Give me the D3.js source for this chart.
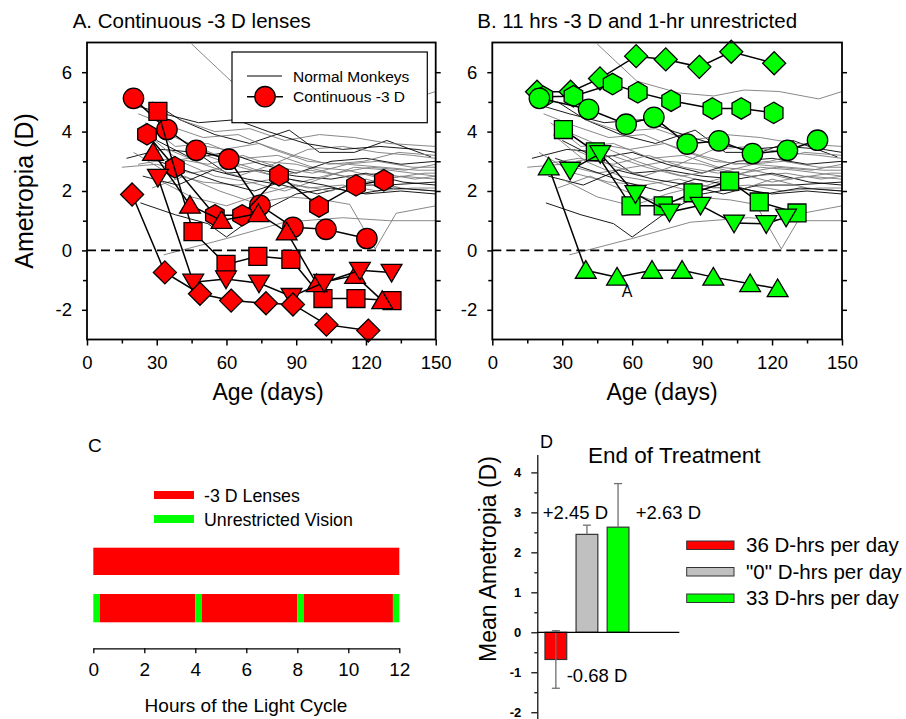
<!DOCTYPE html>
<html><head><meta charset="utf-8">
<script src="https://cdn.jsdelivr.net/npm/d3@7"></script>
<style>
body{margin:0;background:#fff}
text{font-family:"Liberation Sans",Arial,sans-serif;fill:#000}
</style>
</head><body>
<svg id="chart" width="906" height="719"></svg>
<script>
// ---------- DATA ----------
const ageTicks = [0, 30, 60, 90, 120, 150];
const ageMinorTicks = [15, 45, 75, 105, 135];
const ametTicks = [-2, 0, 2, 4, 6];
const ametMinorTicks = [-1, 1, 3, 5];

// normal monkeys (age, ametropia)
const normalMonkeys = [
  [[45,6.95],[62,5.7],[80,5.3],[95,5.2],[108,5.4],[123,5.35],[140,5.1],[150,5.35]],
  [[28,5.0],[40,4.4],[55,3.9],[70,3.6],[87,4.05],[100,3.3],[115,3.3],[129,3.7],[148,3.15]],
  [[22,4.6],[35,4.2],[50,3.8],[65,3.9],[80,3.4],[95,3.0],[110,2.9],[125,3.0],[140,2.8],[150,2.8]],
  [[25,4.3],[38,3.5],[52,3.6],[68,3.1],[82,3.2],[97,2.8],[112,2.7],[128,2.4],[145,2.6],[150,2.6]],
  [[17,3.1],[32,3.4],[47,3.3],[60,2.6],[75,2.7],[90,2.5],[105,2.4],[120,2.6],[136,2.3],[150,2.2]],
  [[15,2.8],[30,2.9],[45,2.6],[60,2.8],[75,3.0],[90,2.9],[105,2.6],[120,2.3],[135,2.5],[150,2.4]],
  [[20,3.3],[35,2.6],[50,2.3],[65,2.2],[80,2.4],[95,2.1],[110,2.2],[125,2.0],[140,2.1],[150,2.1]],
  [[23,1.6],[38,1.2],[52,0.9],[60,0.45],[75,1.3],[90,1.9],[105,2.1],[120,1.9],[135,2.0],[150,1.9]],
  [[33,-0.15],[60,0.4],[85,0.95],[110,1.1],[130,1.0],[150,1.0]],
  [[28,2.1],[42,2.5],[57,2.0],[72,1.6],[87,1.8],[102,1.7],[113,1.55],[124,0.05],[133,1.25],[150,1.5]],
  [[30,3.7],[45,3.1],[60,3.3],[75,2.9],[90,2.6],[105,3.0],[120,3.1],[135,2.9],[150,3.0]],
  [[26,3.9],[40,3.0],[55,2.5],[70,2.3],[85,2.0],[100,2.4],[115,2.8],[130,2.7],[150,2.5]],
  [[35,3.4],[50,2.9],[65,2.5],[80,2.9],[95,3.4],[110,3.5],[125,3.3],[140,3.2],[150,3.1]],
  [[24,2.5],[39,2.2],[54,2.7],[69,2.4],[84,2.2],[99,1.9],[114,2.2],[129,2.2],[150,2.3]],
  [[40,4.4],[55,4.0],[70,4.1],[85,3.7],[100,3.9],[115,3.8],[130,3.6],[150,3.5]],
  [[32,4.0],[47,3.5],[62,3.0],[77,2.6],[92,2.3],[107,2.6],[122,2.8],[137,2.7],[150,2.9]],
  [[20,4.9],[33,4.6],[48,4.3],[64,4.4],[78,4.0],[94,3.6],[110,3.4],[126,3.5],[142,3.4],[150,3.3]],
  [[30,2.4],[45,1.8],[60,1.5],[75,1.9],[90,2.2],[105,2.0],[120,2.4],[135,2.1],[150,2.0]],
  [[36,3.0],[51,3.2],[66,2.8],[81,2.5],[96,2.7],[111,2.5],[126,2.6],[141,2.4],[150,2.5]],
  [[27,3.1],[42,2.7],[57,2.3],[72,2.0],[87,2.4],[102,2.2],[117,1.9],[132,2.1],[150,2.0]],
  [[44,3.6],[59,3.4],[74,3.6],[89,3.2],[104,2.9],[119,3.0],[134,3.3],[150,3.2]],
  [[22,2.9],[37,3.1],[52,2.9],[67,3.2],[82,2.8],[97,2.6],[112,2.9],[127,2.8],[142,2.7],[150,2.7]]
];

// Panel A: continuous -3 D lenses
const redCircle  = [[20,5.12],[34.4,4.07],[47,3.37],[61,3.07],[74.4,1.52],[88.6,0.78],[102.8,0.71],[120.4,0.40]];
const redHexagon = [[25.8,3.91],[37.8,2.8],[55,1.18],[66.7,1.18],[82.6,2.53],[99.8,1.48],[115.7,2.19],[127.7,2.36]];
const redSquare  = [[30.5,4.68],[45.6,0.63],[59.8,-0.47],[73.5,-0.2],[87.7,-0.3],[101.5,-1.62],[115.7,-1.62],[131.2,-1.69]];
const redTriUp   = [[28.4,3.3],[44.3,1.52],[57.9,1.01],[73.7,1.24],[85.9,0.62],[98.8,-1.12],[115.3,-0.84],[127,-1.69]];
const redTriDown = [[30.5,2.46],[45.7,-1.07],[59.8,-0.96],[74,-1.1],[88,-1.55],[102,-1.08],[117.4,-0.67],[131,-0.74]];
const redDiamond = [[19.4,1.88],[33.5,-0.74],[48.6,-1.46],[62,-1.69],[77,-1.78],[88.6,-1.82],[103,-2.5],[121,-2.7]];

// Panel B: 11 hrs -3 D and 1-hr unrestricted
const greenDiamond = [[19.2,5.34],[33.6,5.34],[46.2,5.79],[61.7,6.54],[74.4,6.43],[88.8,6.18],[102.5,6.69],[120.9,6.30]];
const greenHexagon = [[21.9,5.17],[34.8,5.19],[51.6,5.6],[62.4,5.32],[76.7,5.04],[94.4,4.78],[106.8,4.78],[120.7,4.63]];
const greenCircle  = [[20.2,5.12],[41.3,4.75],[57.4,4.25],[69.3,4.48],[83.6,3.58],[97.2,3.69],[111.6,3.26],[126.6,3.37],[139.5,3.71]];
const greenSquare  = [[30.5,4.07],[44.2,3.32],[59.5,1.5],[73.3,1.5],[86.1,1.94],[101.8,2.33],[114.5,1.63],[130.7,1.26]];
const greenTriDown = [[33.4,2.7],[46.3,3.26],[61.4,1.91],[76,1.29],[89.3,1.52],[103.7,0.92],[117.5,0.9],[126,1.12]];
const greenTriUp   = [[24.2,2.81],[40.1,-0.67],[53.5,-0.9],[68.5,-0.67],[81.4,-0.67],[94.8,-0.9],[110.6,-1.12],[122.4,-1.29]];

// Panel C: schedule over light cycle (hours)
const hourTicks = [0, 2, 4, 6, 8, 10, 12];
const continuousSchedule = [[0, 12, "lens"]];
const splitSchedule = [[0, 0.25, "free"], [0.25, 4, "lens"], [4, 4.25, "free"], [4.25, 8, "lens"], [8, 8.25, "free"], [8.25, 11.75, "lens"], [11.75, 12, "free"]];
const scheduleLegend = [["lens", "-3 D Lenses"], ["free", "Unrestricted Vision"]];

// Panel D: end of treatment
const groups = ["36 D-hrs per day", "\"0\" D-hrs per day", "33 D-hrs per day"];
const meanAmetropia = [-0.68, 2.45, 2.63];
const errAmetropia = [0.72, 0.23, 1.09];
const barLabels = ["-0.68 D", "+2.45 D", "+2.63 D"];
const dTicks = [-2, -1, 0, 1, 2, 3, 4];

// ---------- DRAW ----------
const svg = d3.select("#chart");
const RED = "#ff0000", GREEN = "#00ff00", GRAY = "#c0c0c0";
const fmt = d => String(d);   // plain hyphen-minus like the reference

function shape(type, r) {
  const p = d3.path();
  if (type === "circle") { p.arc(0, 0, r, 0, 2 * Math.PI); p.closePath(); }
  else if (type === "square") { const h = r * 0.88; p.rect(-h, -h, 2 * h, 2 * h); }
  else if (type === "up") { p.moveTo(0, -r * 0.95); p.lineTo(r * 1.02, r * 0.78); p.lineTo(-r * 1.02, r * 0.78); p.closePath(); }
  else if (type === "down") { p.moveTo(0, r * 0.95); p.lineTo(r * 1.02, -r * 0.78); p.lineTo(-r * 1.02, -r * 0.78); p.closePath(); }
  else if (type === "diamond") { const h = r * 1.13; p.moveTo(0, -h); p.lineTo(h, 0); p.lineTo(0, h); p.lineTo(-h, 0); p.closePath(); }
  else if (type === "hexagon") {
    for (let k = 0; k < 6; k++) {
      const a = (-90 + 60 * k) * Math.PI / 180;
      const x = r * 1.05 * Math.cos(a), y = r * 1.05 * Math.sin(a);
      if (k === 0) p.moveTo(x, y); else p.lineTo(x, y);
    }
    p.closePath();
  }
  return p.toString();
}

const y = d3.scaleLinear().domain([-3, 7]).range([339.5, 42.5]);

function timePanel(x0, x1, title, titleX, series, color, ageTitleX) {
  const x = d3.scaleLinear().domain([0, 150]).range([x0, x1]);
  const g = svg.append("g");
  const line = d3.line().x(d => x(d[0])).y(d => y(d[1]));
  g.append("g").selectAll("path").data(normalMonkeys).join("path")
    .attr("d", line).attr("fill", "none")
    .attr("stroke", (d, i) => i % 3 === 1 ? "#000" : "#7a7a7a")
    .attr("stroke-width", 0.9);
  g.append("line").attr("x1", x(0)).attr("x2", x(150)).attr("y1", y(0)).attr("y2", y(0))
    .attr("stroke", "#000").attr("stroke-width", 1.6).attr("stroke-dasharray", "9,5");
  series.forEach(s => {
    g.append("path").datum(s.data).attr("d", line).attr("fill", "none")
      .attr("stroke", "#000").attr("stroke-width", 1.5);
    g.append("g").selectAll("path").data(s.data).join("path")
      .attr("transform", d => `translate(${x(d[0])},${y(d[1])})`)
      .attr("d", shape(s.type, 10.2))
      .attr("fill", color).attr("stroke", "#000").attr("stroke-width", 1.3);
  });
  g.append("rect").attr("x", x0).attr("y", y(7)).attr("width", x1 - x0).attr("height", y(-3) - y(7))
    .attr("fill", "none").attr("stroke", "#000").attr("stroke-width", 1.8);
  const ax = g.append("g").attr("transform", `translate(0,${y(-3)})`)
    .call(d3.axisBottom(x).tickValues(ageTicks).tickFormat(fmt).tickSize(6).tickPadding(10).tickSizeOuter(0));
  const axm = g.append("g").attr("transform", `translate(0,${y(-3)})`)
    .call(d3.axisBottom(x).tickValues(ageMinorTicks).tickSize(4).tickFormat(""));
  const ay = g.append("g").attr("transform", `translate(${x0},0)`)
    .call(d3.axisLeft(y).tickValues(ametTicks).tickFormat(fmt).tickSize(5).tickPadding(10).tickSizeOuter(0));
  const aym = g.append("g").attr("transform", `translate(${x0},0)`)
    .call(d3.axisLeft(y).tickValues(ametMinorTicks).tickSize(4).tickFormat(""));
  const ayr = g.append("g").attr("transform", `translate(${x1},0)`)
    .call(d3.axisRight(y).tickValues([-2,-1,0,1,2,3,4,5,6]).tickSize(5).tickFormat(""));
  [ax, axm, ay, aym, ayr].forEach(a => {
    a.select(".domain").remove();
    a.selectAll(".tick line").attr("stroke", "#000").attr("stroke-width", 1.5);
    a.selectAll("text").attr("font-size", 18.5).attr("font-family", "Liberation Sans, Arial, sans-serif").attr("fill", "#000");
  });
  svg.append("text").attr("x", titleX).attr("y", 28.3).attr("font-size", 20.5).text(title);
  svg.append("text").attr("x", ageTitleX).attr("y", 400).attr("text-anchor", "middle")
    .attr("font-size", 23).text("Age (days)");
  return { g, x };
}

timePanel(87, 435.7, "A. Continuous -3 D lenses", 72.7, [
  { type: "circle", data: redCircle },
  { type: "hexagon", data: redHexagon },
  { type: "square", data: redSquare },
  { type: "up", data: redTriUp },
  { type: "down", data: redTriDown },
  { type: "diamond", data: redDiamond }
], RED, 268);

timePanel(492.3, 842, "B. 11 hrs -3 D and 1-hr unrestricted", 477.3, [
  { type: "diamond", data: greenDiamond },
  { type: "hexagon", data: greenHexagon },
  { type: "circle", data: greenCircle },
  { type: "square", data: greenSquare },
  { type: "down", data: greenTriDown },
  { type: "up", data: greenTriUp }
], GREEN, 662);

svg.append("text").attr("x", 627).attr("y", 297).attr("text-anchor", "middle").attr("font-size", 16).text("A");

svg.append("text").attr("transform", "translate(33,191) rotate(-90)").attr("text-anchor", "middle")
  .attr("font-size", 25).text("Ametropia (D)");

// legend A
const lg = svg.append("g");
lg.append("rect").attr("x", 232).attr("y", 52).attr("width", 195.3).attr("height", 70.7)
  .attr("fill", "#fff").attr("stroke", "#000").attr("stroke-width", 1.2);
lg.append("line").attr("x1", 247).attr("x2", 282).attr("y1", 76).attr("y2", 76).attr("stroke", "#000").attr("stroke-width", 1);
lg.append("line").attr("x1", 247).attr("x2", 283).attr("y1", 96.7).attr("y2", 96.7).attr("stroke", "#000").attr("stroke-width", 1.5);
lg.append("path").attr("transform", "translate(265,96.7)").attr("d", shape("circle", 10.2))
  .attr("fill", RED).attr("stroke", "#000").attr("stroke-width", 1.3);
lg.append("text").attr("x", 293).attr("y", 82).attr("font-size", 15.5).text("Normal Monkeys");
lg.append("text").attr("x", 293).attr("y", 102.3).attr("font-size", 15.5).text("Continuous -3 D");

// ---------- Panel C ----------
const xC = d3.scaleLinear().domain([0, 12]).range([93.3, 399.3]);
const colorC = { lens: RED, free: GREEN };
svg.append("text").attr("x", 88).attr("y", 452).attr("font-size", 19).text("C");
const cLeg = svg.append("g").selectAll("g").data(scheduleLegend).join("g")
  .attr("transform", (d, i) => `translate(0,${i * 24})`);
cLeg.append("rect").attr("x", 154).attr("y", 491).attr("width", 40).attr("height", 8).attr("fill", d => colorC[d[0]]);
cLeg.append("text").attr("x", 204).attr("y", 501.5).attr("font-size", 17.8).text(d => d[1]);
svg.append("g").selectAll("rect").data(continuousSchedule).join("rect")
  .attr("x", d => xC(d[0])).attr("width", d => xC(d[1]) - xC(d[0]))
  .attr("y", 547.7).attr("height", 27.3).attr("fill", d => colorC[d[2]]);
svg.append("g").selectAll("rect").data(splitSchedule).join("rect")
  .attr("x", d => xC(d[0])).attr("width", d => xC(d[1]) - xC(d[0]))
  .attr("y", 594).attr("height", 28.3).attr("fill", d => colorC[d[2]]);
const axC = svg.append("g").attr("transform", "translate(0,648.3)")
  .call(d3.axisBottom(xC).tickValues(hourTicks).tickFormat(fmt).tickSize(5).tickPadding(9).tickSizeOuter(0));
axC.select(".domain").attr("stroke", "#000").attr("stroke-width", 1.3);
axC.selectAll(".tick line").attr("stroke", "#000").attr("stroke-width", 1.3);
axC.selectAll("text").attr("font-size", 19).attr("font-family", "Liberation Sans, Arial, sans-serif").attr("fill", "#000");
svg.append("text").attr("x", 246).attr("y", 712).attr("text-anchor", "middle").attr("font-size", 19).text("Hours of the Light Cycle");

// ---------- Panel D ----------
const yD = d3.scaleLinear().domain([-2.3, 4.45]).range([632.3 + 2.3 * 39.975, 632.3 - 4.45 * 39.975]);
const xD = d3.scaleBand().domain(groups).range([540.3, 633.6]).paddingInner(0.3).paddingOuter(0.15);
const barColors = [RED, GRAY, GREEN];
const dAx = svg.append("g").attr("transform", "translate(537.3,0)")
  .call(d3.axisLeft(yD).tickValues(dTicks).tickFormat(fmt).tickSize(6).tickPadding(10).tickSizeOuter(0));
const dAxm = svg.append("g").attr("transform", "translate(537.3,0)")
  .call(d3.axisLeft(yD).tickValues([-1.5, -0.5, 0.5, 1.5, 2.5, 3.5]).tickSize(3).tickFormat("").tickSizeOuter(0));
dAxm.select(".domain").remove();
dAx.select(".domain").attr("stroke", "#000").attr("stroke-width", 1.2);
[dAx, dAxm].forEach(a => a.selectAll(".tick line").attr("stroke", "#000").attr("stroke-width", 1.2));
dAx.selectAll("text").attr("font-size", 13).attr("font-weight", "bold").attr("font-family", "Liberation Sans, Arial, sans-serif").attr("fill", "#222");

const bars = svg.append("g");
bars.selectAll("rect").data(groups).join("rect")
  .attr("x", d => xD(d)).attr("width", xD.bandwidth())
  .attr("y", (d, i) => yD(Math.max(0, meanAmetropia[i])))
  .attr("height", (d, i) => Math.abs(yD(meanAmetropia[i]) - yD(0)))
  .attr("fill", (d, i) => barColors[i]).attr("stroke", "#333").attr("stroke-width", 1.2);
groups.forEach((gname, i) => {
  const cx = xD(gname) + xD.bandwidth() / 2;
  const m = meanAmetropia[i], e = errAmetropia[i];
  const lo = m < 0 ? m - e : m, hi = m + e;
  const eg = svg.append("g").attr("stroke", "#707070").attr("stroke-width", 1.3);
  eg.append("line").attr("x1", cx).attr("x2", cx).attr("y1", yD(lo)).attr("y2", yD(hi));
  eg.append("line").attr("x1", cx - 4).attr("x2", cx + 4).attr("y1", yD(hi)).attr("y2", yD(hi));
  if (m < 0) eg.append("line").attr("x1", cx - 4).attr("x2", cx + 4).attr("y1", yD(lo)).attr("y2", yD(lo));
});
svg.append("line").attr("x1", 537.3).attr("x2", 679.3).attr("y1", yD(0)).attr("y2", yD(0))
  .attr("stroke", "#000").attr("stroke-width", 1.2);
const labelPos = [[566.7, 681.7], [542.7, 519.3], [635.7, 519.3]];
barLabels.forEach((t, i) => {
  svg.append("text").attr("x", labelPos[i][0]).attr("y", labelPos[i][1]).attr("font-size", 18.5).text(t);
});
svg.append("text").attr("x", 540).attr("y", 448.3).attr("font-size", 18).text("D");
svg.append("text").attr("x", 588).attr("y", 463.3).attr("font-size", 22.5).text("End of Treatment");
svg.append("text").attr("transform", "translate(496,559) rotate(-90)").attr("text-anchor", "middle")
  .attr("font-size", 23).text("Mean Ametropia (D)");
const dLeg = svg.append("g").selectAll("g").data(groups).join("g")
  .attr("transform", (d, i) => `translate(0,${i * 26.5})`);
dLeg.append("rect").attr("x", 686.7).attr("y", 541).attr("width", 47.3).attr("height", 8.5)
  .attr("fill", (d, i) => barColors[i]).attr("stroke", "#333").attr("stroke-width", 1);
dLeg.append("text").attr("x", 746).attr("y", 552.3).attr("font-size", 20.5).text(d => d);
</script>
</body></html>
